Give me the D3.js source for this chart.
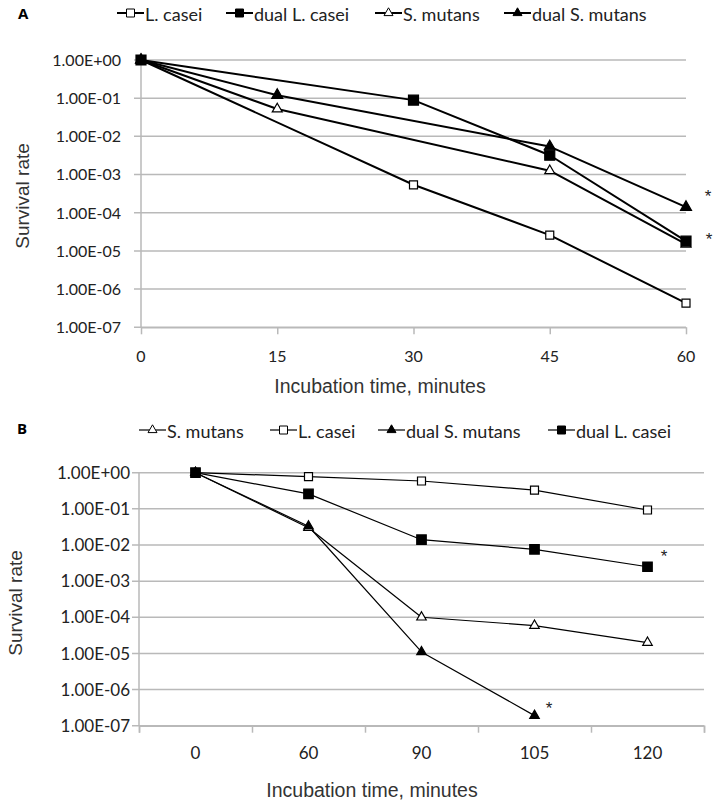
<!DOCTYPE html>
<html><head><meta charset="utf-8">
<script src="https://cdn.jsdelivr.net/npm/d3@7/dist/d3.min.js"></script>
<style>body{margin:0;background:#fff}svg{display:block}</style>
</head><body><svg id="c" width="718" height="805"></svg>
<script>
// ---------- DATA ----------
// Panel A
const timesA = [0, 15, 30, 45, 60];
const lCaseiA      = [1, null, 5.4e-4, 2.6e-5, 4.3e-7];
const dualLCaseiA  = [1, null, 0.089, 3.2e-3, 1.8e-5];
const sMutansA     = [1, 0.052, null, 1.26e-3, 1.5e-5];
const dualSMutansA = [1, 0.12, null, 5.4e-3, 1.4e-4];
// Panel B
const timesB = ["0", "60", "90", "105", "120"];
const sMutansB     = [1, 0.030, 1.0e-4, 5.9e-5, 2.0e-5];
const lCaseiB      = [1, 0.78, 0.59, 0.33, 0.093];
const dualSMutansB = [1, 0.033, 1.1e-5, 1.9e-7, null];
const dualLCaseiB  = [1, 0.26, 0.014, 7.6e-3, 2.5e-3];
const yTickValues = [1, 1e-1, 1e-2, 1e-3, 1e-4, 1e-5, 1e-6, 1e-7];
const yTickLabels = ["1.00E+00","1.00E-01","1.00E-02","1.00E-03","1.00E-04","1.00E-05","1.00E-06","1.00E-07"];
const legendA = ["L. casei", "dual L. casei", "S. mutans", "dual S. mutans"];
const legendB = ["S. mutans", "L. casei", "dual S. mutans", "dual L. casei"];

// ---------- STYLE / LAYOUT ----------
const GRID = "#b9b9b9";
const tickFont = "Lato, 'Open Sans', sans-serif";
const titleFont = "'Liberation Sans', Arial, sans-serif";
const svg = d3.select("#c");

const markerStyle = {
  "L. casei":       {type: d3.symbolSquare, fill: "#fff"},
  "dual L. casei":  {type: d3.symbolSquare, fill: "#000"},
  "S. mutans":      {type: d3.symbolTriangle, fill: "#fff"},
  "dual S. mutans": {type: d3.symbolTriangle, fill: "#000"}
};
function symPath(name, s) {
  const st = markerStyle[name];
  const area = st.type === d3.symbolSquare ? s * s : Math.sqrt(3) / 4 * s * s;
  return d3.symbol().type(st.type).size(area)();
}

function drawPanel(cfg) {
  const g = svg.append("g");
  const y = d3.scaleLog().domain([1e-7, 1]).range([cfg.bottom, cfg.top]);
  // gridlines
  g.selectAll(".grid").data(yTickValues).enter().append("line")
    .attr("x1", cfg.left - 7).attr("x2", cfg.right)
    .attr("y1", d => y(d)).attr("y2", d => y(d))
    .attr("stroke", GRID).attr("stroke-width", 1.5);
  // y axis line
  g.append("line").attr("x1", cfg.left).attr("x2", cfg.left)
    .attr("y1", cfg.top).attr("y2", cfg.bottom).attr("stroke", GRID).attr("stroke-width", 1.5);
  // y tick labels
  g.selectAll(".yl").data(yTickValues).enter().append("text")
    .attr("x", cfg.yLabelX).attr("y", d => y(d)).attr("dy", "0.36em")
    .attr("text-anchor", "end").attr("font-family", tickFont).attr("font-size", cfg.tickSize)
    .attr("fill", "#222").text((d, i) => yTickLabels[i]);
  // x axis
  const xAxis = g.append("g").attr("transform", `translate(0,${cfg.bottom})`).call(cfg.axis);
  xAxis.select(".domain").attr("stroke", GRID).attr("stroke-width", 1.5);
  xAxis.selectAll(".tick line").attr("stroke", GRID).attr("stroke-width", 1.5);
  xAxis.selectAll(".tick text").remove();
  // x tick labels
  g.selectAll(".xl").data(cfg.cats).enter().append("text")
    .attr("x", d => cfg.xc(d)).attr("y", cfg.xLabelY)
    .attr("text-anchor", "middle").attr("font-family", tickFont).attr("font-size", cfg.tickSize)
    .attr("fill", "#222").text(d => d);
  // series
  const line = d3.line().x(d => cfg.xc(d.t)).y(d => y(d.v));
  cfg.series.forEach(s => {
    const pts = cfg.cats.map((t, i) => ({t, v: s.values[i]})).filter(p => p.v != null);
    g.append("path").datum(pts).attr("d", line).attr("fill", "none")
      .attr("stroke", "#000").attr("stroke-width", cfg.lineW).attr("stroke-linejoin", "round");
  });
  cfg.series.forEach(s => {
    const pts = cfg.cats.map((t, i) => ({t, v: s.values[i]})).filter(p => p.v != null);
    const st = markerStyle[s.name];
    const size = st.type === d3.symbolSquare ? (st.fill === "#000" ? cfg.sqF : cfg.sqO) : (st.fill === "#000" ? cfg.trF : cfg.trO);
    g.selectAll(null).data(pts).enter().append("path")
      .attr("transform", d => `translate(${cfg.xc(d.t)},${y(d.v)})`)
      .attr("d", symPath(s.name, size))
      .attr("fill", st.fill).attr("stroke", "#000").attr("stroke-width", 1.2);
  });
  // asterisks
  cfg.stars.forEach(p => {
    g.append("text").attr("x", p.x).attr("y", p.y + 9).attr("text-anchor", "middle")
      .attr("font-family", titleFont).attr("font-size", 17).attr("fill", "#222").text("*");
  });
  // titles
  g.append("text").attr("transform", `translate(${cfg.yTitleX},${cfg.yTitleY}) rotate(-90)`)
    .attr("text-anchor", "middle").attr("dy", "0.35em").attr("font-family", titleFont)
    .attr("font-size", cfg.yTitleSize).attr("fill", "#333").text("Survival rate");
  g.append("text").attr("x", cfg.xTitleX).attr("y", cfg.xTitleY).attr("dy", "0.35em")
    .attr("text-anchor", "middle").attr("font-family", titleFont)
    .attr("font-size", cfg.xTitleSize).attr("fill", "#333").text("Incubation time, minutes");
  // panel letter
  g.append("text").attr("x", cfg.letterX).attr("y", cfg.letterY).attr("dy", "0.36em")
    .attr("font-family", "'Open Sans', sans-serif").attr("font-weight", "bold").attr("font-size", 15)
    .text(cfg.letter);
  // legend
  cfg.legend.forEach((name, i) => {
    const x0 = cfg.legendX[i];
    const lg = g.append("g");
    lg.append("line").attr("x1", x0).attr("x2", x0 + 27).attr("y1", cfg.legendY).attr("y2", cfg.legendY)
      .attr("stroke", "#000").attr("stroke-width", cfg.lineW);
    lg.append("path").attr("transform", `translate(${x0 + 13.5},${cfg.legendY})`)
      .attr("d", symPath(name, markerStyle[name].type === d3.symbolSquare ? 8 : 9))
      .attr("fill", markerStyle[name].fill).attr("stroke", "#000").attr("stroke-width", 1);
    lg.append("text").attr("x", x0 + 28).attr("y", cfg.legendY + 1.5).attr("dy", "0.36em")
      .attr("font-family", tickFont).attr("font-size", 18).attr("fill", "#222").text(name);
  });
}

// Panel A
const xA = d3.scaleLinear().domain([0, 60]).range([141, 686]);
drawPanel({
  letter: "A", letterX: 18, letterY: 14, top: 60, bottom: 327.3, left: 141, right: 686,
  cats: timesA, xc: d => xA(d),
  axis: d3.axisBottom(xA).tickValues(timesA).tickSize(7).tickSizeOuter(0),
  yLabelX: 121, xLabelY: 362, tickSize: 16,
  lineW: 2, sqF: 10, sqO: 8, trF: 11, trO: 10,
  series: [
    {name: "L. casei", values: lCaseiA},
    {name: "S. mutans", values: sMutansA},
    {name: "dual S. mutans", values: dualSMutansA},
    {name: "dual L. casei", values: dualLCaseiA}
  ],
  stars: [{x: 708, y: 193}, {x: 709, y: 236}],
  yTitleX: 22, yTitleY: 196, yTitleSize: 19,
  xTitleX: 380, xTitleY: 386, xTitleSize: 19.5,
  legend: legendA, legendX: [117, 226, 375, 504], legendY: 13
});

// Panel B
const xB = d3.scaleBand().domain(timesB).range([139, 704]).padding(0);
drawPanel({
  letter: "B", letterX: 17, letterY: 429, top: 472.7, bottom: 725.7, left: 139, right: 704,
  cats: timesB, xc: d => xB(d) + xB.bandwidth() / 2,
  axis: d3.axisBottom(d3.scaleLinear().domain([0, 5]).range([139, 704])).ticks(5).tickSize(7).tickSizeOuter(7),
  yLabelX: 130, xLabelY: 759, tickSize: 17,
  lineW: 1.2, sqF: 9.5, sqO: 8, trF: 9.5, trO: 9.5,
  series: [
    {name: "L. casei", values: lCaseiB},
    {name: "S. mutans", values: sMutansB},
    {name: "dual S. mutans", values: dualSMutansB},
    {name: "dual L. casei", values: dualLCaseiB}
  ],
  stars: [{x: 664, y: 553}, {x: 549, y: 705}],
  yTitleX: 15, yTitleY: 603, yTitleSize: 19,
  xTitleX: 372, xTitleY: 790, xTitleSize: 19.5,
  legend: legendB, legendX: [139, 270, 378, 548], legendY: 430
});
</script></body></html>
